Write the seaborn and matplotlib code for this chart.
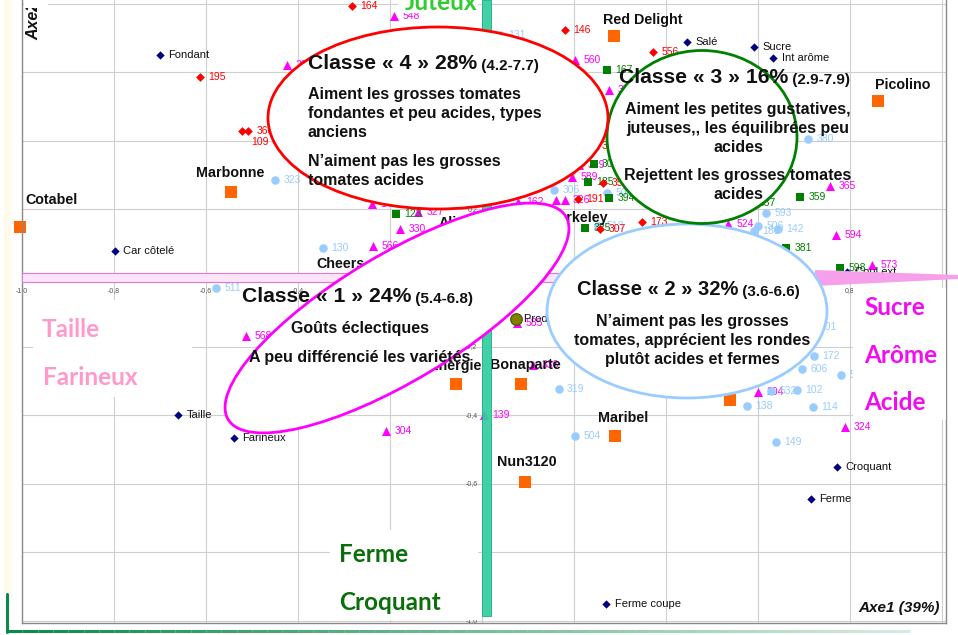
import numpy as np
import pandas as pd
import matplotlib
matplotlib.use("Agg")
import matplotlib.pyplot as plt
import seaborn as sns
from matplotlib.patches import Ellipse, Rectangle, Polygon
from matplotlib.collections import LineCollection

# 1. Données lues sur la carte (Axe1 / Axe2)
# attributs sensoriels
attr_names = ["Fondant", "Car côtelé", "Taille", "Farineux", "Salé", "Sucre", "Int arôme",
              "Croquant", "Ferme", "Ferme coupe", "Coul ext"]
attr_x = [-0.700, -0.798, -0.661, -0.539, 0.446, 0.591, 0.633, 0.772, 0.715, 0.270, 0.793]
attr_y = [0.650, 0.079, -0.399, -0.466, 0.688, 0.673, 0.641, -0.551, -0.644, -0.950, 0.017]

# variétés de tomates
var_names = ["Cotabel", "Marbonne", "Red Delight", "Picolino", "Cheers", "Alicante", "Berkeley",
             "Energie", "Bonaparte", "Maribel", "Nun3120", ""]
var_x = [-1.004, -0.546, 0.287, 0.861, -0.302, -0.035, 0.148, -0.057, 0.085, 0.289, 0.093, 0.539]
var_y = [0.149, 0.251, 0.706, 0.516, -0.015, 0.108, 0.096, -0.309, -0.309, -0.461, -0.595, -0.356]

ideal_name = ["Produit idéal"]
ideal_x = [0.074]
ideal_y = [-0.120]

# consommateurs par classe
c1_ids = ["548", "284", "560", "372", "330", "566", "327", "148", "162", "", "326", "589",
          "399", "365", "594", "573", "524", "568", "304", "139", "585", "336", "204", "324"]
c1_x = [-0.191, -0.424, 0.202, 0.276, -0.178, -0.237, -0.139, -0.239, 0.078, 0.161, 0.180, 0.196,
        0.211, 0.757, 0.770, 0.848, 0.535, -0.513, -0.209, 0.004, 0.076, 0.111, 0.600, 0.789]
c1_y = [0.764, 0.621, 0.636, 0.548, 0.143, 0.093, 0.192, 0.216, 0.222, 0.227, 0.227, 0.294,
        0.329, 0.268, 0.125, 0.038, 0.157, -0.169, -0.446, -0.399, -0.131, -0.254, -0.332, -0.434]

c2_ids = ["323", "130", "511", "380", "593", "142", "506", "180", "306", "508", "518", "131",
          "319", "504", "138", "149", "114", "102", "532", "606", "172", "512", "301"]
c2_x = [-0.450, -0.346, -0.578, 0.709, 0.617, 0.643, 0.600, 0.591, 0.157, 0.272, 0.252, 0.039,
        0.167, 0.202, 0.576, 0.639, 0.720, 0.685, 0.628, 0.696, 0.722, 0.780, 0.717]
c2_y = [0.286, 0.087, -0.029, 0.405, 0.190, 0.143, 0.152, 0.137, 0.257, 0.248, 0.152, 0.708,
        -0.324, -0.461, -0.373, -0.478, -0.376, -0.327, -0.329, -0.265, -0.227, -0.283, -0.143]

c3_ids = ["123", "359", "381", "598", "167", "305", "185", "394", "325", "337"]
c3_x = [-0.187, 0.691, 0.661, 0.778, 0.272, 0.243, 0.230, 0.276, 0.224, 0.583]
c3_y = [0.187, 0.236, 0.087, 0.029, 0.606, 0.332, 0.280, 0.233, 0.146, 0.219]

c4_ids = ["164", "195", "360", "109", "146", "556", "173", "307", "191", "356", "348"]
c4_x = [-0.283, -0.613, -0.509, -0.522, 0.180, 0.372, 0.348, 0.257, 0.209, 0.263, 0.243]
c4_y = [0.793, 0.586, 0.429, 0.429, 0.723, 0.659, 0.163, 0.143, 0.230, 0.277, 0.385]

# classes : titre, part, note
class_nums = ["1", "2", "3", "4"]
class_shares = ["24%", "32%", "16%", "28%"]
class_notes = ["(5.4-6.8)", "(3.6-6.6)", "(2.9-7.9)", "(4.2-7.7)"]
class_text = [
    [["Goûts éclectiques"], ["A peu différencié les variétés"]],
    [["N’aiment pas les grosses", "tomates, apprécient les rondes", "plutôt acides et fermes"]],
    [["Aiment les petites gustatives,", "juteuses,, les équilibrées peu", "acides"],
     ["Rejettent les grosses tomates", "acides"]],
    [["Aiment les grosses tomates", "fondantes et peu acides, types", "anciens"],
     ["N’aiment pas les grosses", "tomates acides"]],
]

# 2. Mise en page (pixels de l'image 958x635)
W, H = 958, 635
sns.set_style("white")
plt.rcParams["font.family"] = ["Liberation Sans", "DejaVu Sans"]

fig = plt.figure(figsize=(W / 100, H / 100), dpi=100)
ax = fig.add_axes([22 / W, 1 - 623 / H, (946 - 22) / W, 623 / H])


def fx(x):
    return x / W


def fy(y):
    return 1 - y / H


def px_rect(x0, y0, x1, y1, **kw):
    return Rectangle((fx(x0), fy(y1)), (x1 - x0) / W, (y1 - y0) / H,
                     transform=fig.transFigure, **kw)


def draw_group(names, xs, ys, marker, color, size, txt_color, fs=7.5, z=2, **kw):
    df = pd.DataFrame({"x": xs, "y": ys, "nom": names})
    sns.scatterplot(data=df, x="x", y="y", marker=marker, color=color, s=size,
                    linewidth=0, ax=ax, zorder=z, legend=False, clip_on=False, **kw)
    for _, r in df.iterrows():
        if not r["nom"]:
            continue
        off = (6, 0)
        if r["nom"] == "109":
            off = (6.5, -8)
        ax.annotate(r["nom"], (r["x"], r["y"]), xytext=off, textcoords="offset points",
                    ha="left", va="center", fontsize=fs, color=txt_color, zorder=z,
                    annotation_clip=False)


# consommateurs
draw_group(c1_ids, c1_x, c1_y, "^", "#ff00ff", 42, "#ff00ff")
draw_group(c2_ids, c2_x, c2_y, "o", "#99ccff", 38, "#99ccff")
draw_group(c3_ids, c3_x, c3_y, "s", "#008000", 30, "#008000")
draw_group(c4_ids, c4_x, c4_y, "D", "#ff0000", 20, "#ff0000")
# attributs
draw_group(attr_names, attr_x, attr_y, "D", "#000080", 18, "#111111", fs=8, z=2.2)

# produit idéal
sns.scatterplot(x=ideal_x, y=ideal_y, marker="o", color="#808000", s=70,
                edgecolor="#4d4d00", linewidth=0.8, ax=ax, zorder=2.2, legend=False)
ax.annotate(ideal_name[0], (ideal_x[0], ideal_y[0]), xytext=(6, 0), textcoords="offset points",
            ha="left", va="center", fontsize=8, color="#111111", zorder=2.2)

# variétés (étiquette au-dessus, décalage en pixels)
var_off = {"Cotabel": (5, -23, "left"), "Marbonne": (-1, -15, "center"),
           "Red Delight": (29, -12, "center"), "Picolino": (25, -12, "center"),
           "Cheers": (-3, -15, "center"), "Alicante": (0, -14, "center"),
           "Berkeley": (28, -23, "center"), "Energie": (-1, -14, "center"),
           "Bonaparte": (4, -15, "center"), "Maribel": (8, -14, "center"),
           "Nun3120": (2, -16, "center")}
sns.scatterplot(x=var_x, y=var_y, marker="s", color="#ff6600", s=78, linewidth=0,
                ax=ax, zorder=2.3, legend=False, clip_on=False)
for n, x, y in zip(var_names, var_x, var_y):
    if not n:
        continue
    dx, dy, ha = var_off[n]
    ax.annotate(n, (x, y), xytext=(dx * 0.72, -dy * 0.72), textcoords="offset points",
                ha=ha, va="baseline", fontsize=10.3, fontweight="bold", color="#111111",
                zorder=2.3, annotation_clip=False)

# 3. Axes, grille, graduations
xt = np.round(np.arange(-1.0, 1.01, 0.2), 1)
yt = np.round(np.arange(-1.0, 0.81, 0.2), 1)
ax.set_xticks(xt)
ax.set_yticks(yt)
ax.tick_params(length=0, labelbottom=False, labelleft=False)
ax.grid(True, color="#cfcfcf", lw=0.8)
ax.set_axisbelow(True)
ax.set(xlabel="", ylabel="")
for s in ["left", "right", "bottom"]:
    ax.spines[s].set_color("#8a8a8a")
    ax.spines[s].set_linewidth(1.0)
ax.spines["top"].set_visible(False)


def fmt(t):
    return "0" if t == 0 else f"{t:.1f}".replace(".", ",")


for t in xt:
    ax.text(t, -0.038, fmt(t), ha="center", va="center", fontsize=5, color="#555555", zorder=1.5)
for t in yt:
    if t != 0:
        ax.text(-0.01, t, fmt(t), ha="right", va="center", fontsize=5, color="#555555", zorder=1.5)

# flèches des axes (rose horizontale, verte verticale)
ax.add_patch(px_rect(22, 273, 830, 282, facecolor="#fde4f7", edgecolor="#e07ad8", lw=0.8, zorder=3))
ax.add_patch(Polygon([(fx(815), fy(270)), (fx(958), fy(275)), (fx(958), fy(279)), (fx(815), fy(286))],
                     closed=True, transform=fig.transFigure, facecolor="#f6a0ec", edgecolor="none",
                     zorder=3, clip_on=False))
ax.add_patch(px_rect(482, 0, 491, 616, facecolor="#2fcf9f", edgecolor="#1aa57a", lw=0.6,
                     alpha=0.92, zorder=3))

# 4. Ellipses des classes : (cx, cy, largeur, hauteur, angle) en pixels
ell = {"1": (397, 318, 394, 126, 31, "#ff00ff"),
       "2": (687, 311, 280, 174, 0, "#99ccff"),
       "3": (702, 137, 190, 173, 0, "#008000"),
       "4": (438, 118, 340, 182, 0, "#ff0000")}
for k, (cx, cy, w, h, a, c) in ell.items():
    ax.add_patch(Ellipse((cx / 100, (H - cy) / 100), w / 100, h / 100, angle=a,
                         transform=fig.dpi_scale_trans, facecolor="white", edgecolor="none", zorder=4))
for k, (cx, cy, w, h, a, c) in ell.items():
    ax.add_patch(Ellipse((cx / 100, (H - cy) / 100), w / 100, h / 100, angle=a,
                         transform=fig.dpi_scale_trans, facecolor="none", edgecolor=c, lw=2.0, zorder=4.5))

# textes des classes : position du titre, centre / gauche des paragraphes, lignes de base
title_pos = {"1": (242, 302, 15.2), "2": (577, 295, 14.5), "3": (619, 83, 15.2), "4": (308, 69, 15.2)}
para_pos = {"1": [(360, 333, "center"), (360, 362, "center")],
            "2": [(692, 326, "center")],
            "3": [(738, 114, "center"), (738, 180, "center")],
            "4": [(308, 99, "left"), (308, 166, "left")]}
for i, k in enumerate(class_nums):
    tx, ty, fs = title_pos[k]
    t1 = ax.text(fx(tx), fy(ty), f"Classe « {k} » {class_shares[i]}", transform=fig.transFigure,
                 fontsize=fs, fontweight="bold", ha="left", va="baseline", color="#111111", zorder=5)
    ax.annotate(" " + class_notes[i], xy=(1, 0), xycoords=t1, ha="left", va="bottom",
                fontsize=11, fontweight="bold", color="#111111", zorder=5)
    for (px0, py0, ha), lines in zip(para_pos[k], class_text[i]):
        for j, line in enumerate(lines):
            ax.text(fx(px0), fy(py0 + 19 * j), line, transform=fig.transFigure, fontsize=11.5,
                    fontweight="bold", ha=ha, va="baseline", color="#111111", zorder=5)

# 5. Libellés des directions (boîtes blanches)
for box in [(33, 300, 192, 397), (853, 288, 958, 420), (330, 530, 478, 620), (398, 0, 478, 13)]:
    ax.add_patch(px_rect(*box, facecolor="white", edgecolor="none", zorder=6))
big = [("Taille", 42, 337, "#ff99cc"), ("Farineux", 43, 385, "#ff99cc"),
       ("Sucre", 864, 315, "#f20cf0"), ("Arôme", 864, 363, "#f20cf0"), ("Acide", 864, 410, "#f20cf0"),
       ("Ferme", 339, 562, "#0a6e0a"), ("Croquant", 339, 610, "#0a6e0a"),
       ("Juteux", 405, 10, "#2ecc2e")]
for s, x, y, c in big:
    ax.text(fx(x), fy(y), s, transform=fig.transFigure, fontsize=17.5, fontweight="bold",
            family=["Lato", "DejaVu Sans"], color=c, ha="left", va="baseline", zorder=7)

ax.text(fx(940), fy(612), "Axe1 (39%)", transform=fig.transFigure, fontsize=11,
        fontweight="bold", fontstyle="italic", ha="right", va="baseline", color="#111111", zorder=7)
ax.text(fx(34), fy(40), "Axe2 (19%)", transform=fig.transFigure, fontsize=11.5, rotation=90,
        fontweight="bold", fontstyle="italic", ha="center", va="bottom", color="#111111", zorder=7)

ax.set_xlim(-1.0, 1.0087)
ax.set_ylim(-1.006, 0.8105)

# 6. Décor : liseré vert en bas à gauche, haut de l'axe 2 masqué
fig.add_artist(Rectangle((fx(24), fy(8)), 24 / W, 8 / H, transform=fig.transFigure,
                         facecolor="white", edgecolor="none"))
fig.add_artist(plt.Line2D([fx(7), fx(7)], [fy(594), fy(632)], transform=fig.transFigure,
                          color="#0b8a47", lw=2.2))
xs = np.linspace(7, 910, 60)
segs = [[(fx(a), fy(631)), (fx(b), fy(631))] for a, b in zip(xs[:-1], xs[1:])]
cols = [plt.matplotlib.colors.to_rgba("#0b8a47", 1 - 0.85 * i / len(segs)) for i in range(len(segs))]
fig.add_artist(LineCollection(segs, colors=cols, lw=2.2, transform=fig.transFigure))
fig.add_artist(Rectangle((fx(4), fy(594)), 7 / W, 594 / H, transform=fig.transFigure,
                         facecolor="#fffaea", edgecolor="none"))

fig.savefig("out.png", dpi=100)
